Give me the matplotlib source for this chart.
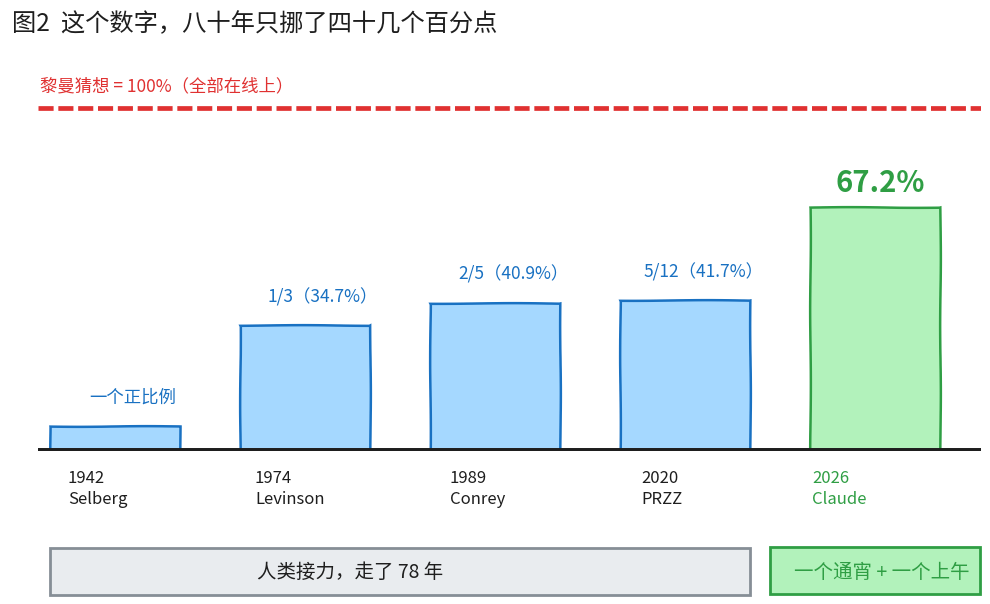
import matplotlib.pyplot as plt
from matplotlib.patches import FancyBboxPatch

plt.rcParams['font.family'] = ['Noto Sans CJK SC', 'DejaVu Sans']

# datos
anios = ['1942', '1974', '1989', '2020', '2026']
autores = ['Selberg', 'Levinson', 'Conrey', 'PRZZ', 'Claude']
valores = [7.0, 34.7, 40.9, 41.7, 67.2]
etiquetas = ['一个正比例', '1/3（34.7%）', '2/5（40.9%）', '5/12（41.7%）', '67.2%']
linea_riemann = 94.5   # la linea roja "100%" se dibuja un poco bajo la escala
titulo = '图2  这个数字，八十年只挪了四十几个百分点'
texto_riemann = '黎曼猜想 = 100%（全部在线上）'
texto_humanos = '人类接力，走了 78 年'
texto_claude = '一个通宵 + 一个上午'

azul_fill, azul_borde = '#a5d8ff', '#1971c2'
verde_fill, verde_borde = '#b2f2bb', '#2f9e44'
rojo = '#e03131'
negro = '#1e1e1e'

W, H = 990, 604
fig = plt.figure(figsize=(W / 100, H / 100), dpi=100)


def px(x, y):
    # pixeles (desde arriba) -> fraccion de figura
    return x / W, 1 - y / H


ax = fig.add_axes([38 / W, 1 - 451 / H, 943 / W, 351 / H])
ax.set_xlim(-0.405, 4.558)
ax.set_ylim(0, 351 / 3.63)
ax.axis('off')

x = list(range(len(anios)))
fills = [azul_fill] * 4 + [verde_fill]
bordes = [azul_borde] * 4 + [verde_borde]
barras = ax.bar(x, valores, width=0.684, color=fills, edgecolor=bordes,
                linewidth=1.8, zorder=2)
for b in barras:
    b.set_sketch_params(0.35, 160, 2)

# linea base
ax.axhline(0, color=negro, lw=4.3, zorder=3, solid_capstyle='butt')

# linea del 100%
ax.axhline(linea_riemann, color=rojo, lw=3.4, linestyle=(0, (3.2, 1.0)), zorder=2)

# etiquetas de valor sobre las barras
for i, (v, t) in enumerate(zip(valores, etiquetas)):
    if i == len(valores) - 1:
        ax.annotate(t, (i, v), xytext=(4, 17), textcoords='offset points',
                    ha='center', va='center', fontsize=21, fontweight='semibold',
                    color=verde_borde)
    else:
        ax.annotate(t, (i, v), xytext=(13, 20), textcoords='offset points',
                    ha='center', va='center', fontsize=12.5, color=azul_borde)

# anios y autores debajo
desplaz = [-47, -50, -45, -44, -63]
for i, (a, n) in enumerate(zip(anios, autores)):
    c = verde_borde if i == len(anios) - 1 else negro
    ax.annotate(a + '\n' + n, (i, 0), xytext=(desplaz[i] * 0.72, -13.5),
                textcoords='offset points', ha='left', va='top',
                fontsize=12, color=c, linespacing=1.3)

# titulo y nota roja
fig.text(*px(12, 24), titulo, fontsize=17.5, color=negro, va='center', ha='left')
fig.text(*px(40, 86), texto_riemann, fontsize=12.5, color=rojo, va='center', ha='left')

# cajas inferiores
x0, y0 = px(50, 595)
x1, y1 = px(750, 548)
fig.patches.append(FancyBboxPatch((x0, y0), x1 - x0, y1 - y0,
                                  boxstyle='square,pad=0', transform=fig.transFigure,
                                  facecolor='#e9ecef', edgecolor='#868e96', lw=2))
fig.text(*px(350, 572), texto_humanos, fontsize=14, color=negro,
         ha='center', va='center')

x0, y0 = px(770, 594)
x1, y1 = px(980, 547)
fig.patches.append(FancyBboxPatch((x0, y0), x1 - x0, y1 - y0,
                                  boxstyle='square,pad=0', transform=fig.transFigure,
                                  facecolor=verde_fill, edgecolor=verde_borde, lw=2))
fig.text(*px(882, 572), texto_claude, fontsize=14, color=verde_borde,
         ha='center', va='center')

plt.savefig('out.png', dpi=100)
plt.close()
